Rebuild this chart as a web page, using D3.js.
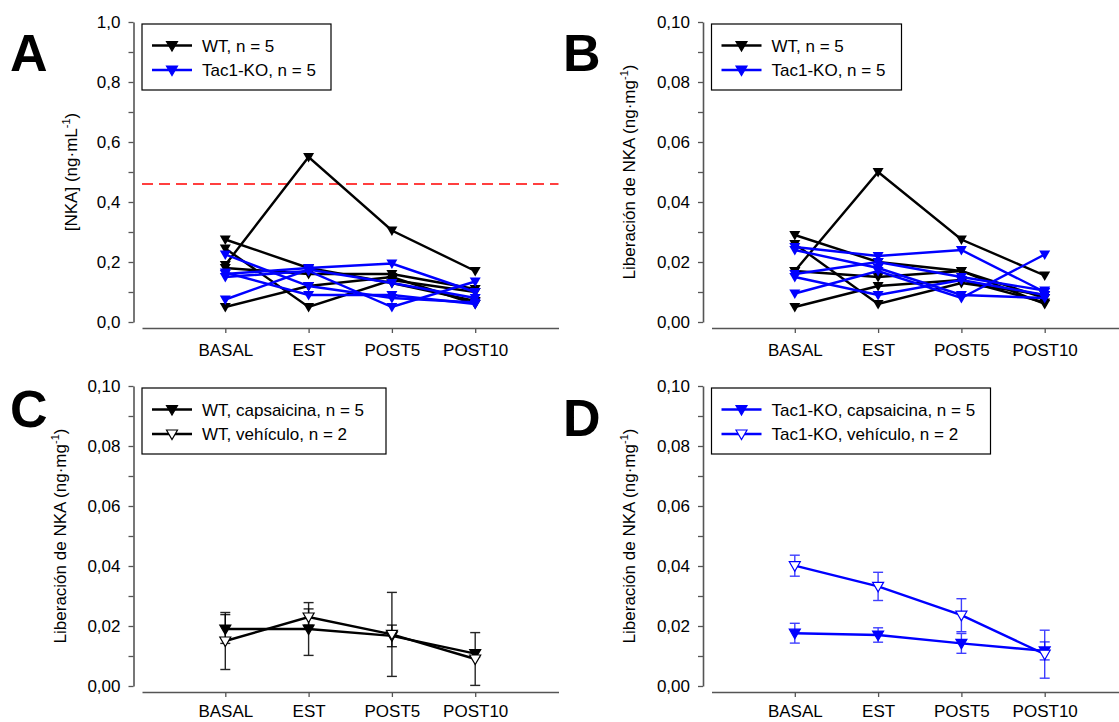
<!DOCTYPE html>
<html>
<head>
<meta charset="utf-8">
<script src="https://cdn.jsdelivr.net/npm/d3@7"></script>
<style>
  body { margin: 0; background: #fff; }
  svg { font-family: "Liberation Sans", Arial, sans-serif; }
</style>
</head>
<body>
<svg id="chart" width="1119" height="722"></svg>
<script>
// categories on the x axis
let categories = ["BASAL", "EST", "POST5", "POST10"];

// panel A: [NKA] per animal
let wtA = [
  [0.19, 0.55, 0.305, 0.17],
  [0.275, 0.18, 0.13, 0.07],
  [0.245, 0.05, 0.14, 0.10],
  [0.18, 0.16, 0.16, 0.11],
  [0.05, 0.12, 0.15, 0.06]
];
let koA = [
  [0.225, 0.12, 0.08, 0.065],
  [0.16, 0.18, 0.195, 0.10],
  [0.15, 0.17, 0.05, 0.135],
  [0.075, 0.175, 0.13, 0.08],
  [0.165, 0.09, 0.09, 0.06]
];
let thresholdA = 0.46;

// panel B: liberacion de NKA per animal
let wtB = [
  [0.017, 0.050, 0.0275, 0.0155],
  [0.029, 0.020, 0.017, 0.006],
  [0.026, 0.006, 0.013, 0.009],
  [0.017, 0.015, 0.017, 0.008],
  [0.005, 0.012, 0.014, 0.0065]
];
let koB = [
  [0.025, 0.022, 0.024, 0.010],
  [0.024, 0.018, 0.009, 0.008],
  [0.016, 0.020, 0.015, 0.0105],
  [0.0095, 0.017, 0.008, 0.0225],
  [0.015, 0.009, 0.014, 0.009]
];

// panel C: WT means and errors
let wtCapsMean = [0.019, 0.019, 0.0167, 0.0108];
let wtCapsErr = [0.0048, 0.0088, 0.0036, 0.0012];
let wtVehMean = [0.015, 0.023, 0.0172, 0.009];
let wtVehErr = [0.0095, 0.0027, 0.014, 0.0088];

// panel D: Tac1-KO means and errors
let koCapsMean = [0.0176, 0.017, 0.0142, 0.0117];
let koCapsErr = [0.0033, 0.0024, 0.0033, 0.003];
let koVehMean = [0.0401, 0.0332, 0.0236, 0.0106];
let koVehErr = [0.0035, 0.0047, 0.0055, 0.008];

// legend labels
let legendA = ["WT, n = 5", "Tac1-KO, n = 5"];
let legendC = ["WT, capsaicina, n = 5", "WT, vehículo, n = 2"];
let legendD = ["Tac1-KO, capsaicina, n = 5", "Tac1-KO, vehículo, n = 2"];

let svg = d3.select("#chart");
let downTri = "M-5.5,-4L5.5,-4L0,5.5Z";

function fmtComma(d, digits) {
  return d.toFixed(digits).replace(".", ",");
}

function drawPanel(p) {
  let g = svg.append("g");

  let y = d3.scaleLinear().domain([0, p.yMax]).range([p.bottom, p.top]);
  let x = d3.scaleLinear().domain([-1, 4]).range([p.axisX + 8.5, p.axisX + 425]);

  // y axis: majors with labels, minors without
  let majors = d3.range(0, 6).map(function(i) { return i * p.yMax / 5; });
  let minors = d3.range(0, 5).map(function(i) { return (i + 0.5) * p.yMax / 5; });
  let yAxis = d3.axisLeft(y)
    .tickValues(majors.concat(minors))
    .tickSize(5)
    .tickSizeOuter(0)
    .tickPadding(8)
    .tickFormat(function(d) {
      let isMajor = majors.some(function(m) { return Math.abs(m - d) < 1e-9; });
      return isMajor ? fmtComma(d, p.digits) : "";
    });
  let ya = g.append("g")
    .attr("transform", "translate(" + p.axisX + ",0)")
    .call(yAxis);
  ya.select(".domain").attr("stroke", "#555").attr("stroke-width", 1.6);
  ya.selectAll(".tick line").attr("stroke", "#555").attr("stroke-width", 1.3);
  ya.selectAll("text").attr("font-size", 17).attr("fill", "#000");

  // x axis sits a little below zero
  let xAxis = d3.axisBottom(x)
    .tickValues([0, 1, 2, 3])
    .tickSize(5)
    .tickSizeOuter(0)
    .tickPadding(p.xPad)
    .tickFormat(function(d) { return categories[d]; });
  let xa = g.append("g")
    .attr("transform", "translate(0," + (p.bottom + 6) + ")")
    .call(xAxis);
  xa.select(".domain").attr("stroke", "#555").attr("stroke-width", 1.6);
  xa.selectAll(".tick line").attr("stroke", "#555").attr("stroke-width", 1.3);
  xa.selectAll("text").attr("font-size", 17).attr("fill", "#000");

  // y axis title with superscript
  let tx = p.titleX, ty = (p.top + p.bottom) / 2;
  let title = g.append("text")
    .attr("transform", "translate(" + tx + "," + ty + ") rotate(-90)")
    .attr("text-anchor", "middle")
    .attr("font-size", 17)
    .attr("fill", "#000");
  title.append("tspan").text(p.title);
  title.append("tspan").attr("dy", -7).attr("font-size", 11).text("-1");
  title.append("tspan").attr("dy", 7).text(")");

  // panel letter
  g.append("text")
    .attr("x", p.letterX).attr("y", p.letterY)
    .attr("font-size", 52).attr("font-weight", "bold")
    .text(p.letter);

  if (p.threshold != null) {
    g.append("line")
      .attr("x1", p.axisX + 8.5).attr("x2", p.axisX + 425)
      .attr("y1", y(p.threshold)).attr("y2", y(p.threshold))
      .attr("stroke", "#ff0000").attr("stroke-width", 1.4)
      .attr("stroke-dasharray", "11,6");
  }

  let line = d3.line()
    .x(function(d, i) { return x(i); })
    .y(function(d) { return y(d); });

  // individual animals
  (p.groups || []).forEach(function(grp) {
    grp.rows.forEach(function(row) {
      g.append("path").datum(row)
        .attr("fill", "none").attr("stroke", grp.color)
        .attr("stroke-width", 2.4).attr("d", line);
      g.selectAll(null).data(row).enter().append("path")
        .attr("d", downTri)
        .attr("transform", function(d, i) { return "translate(" + x(i) + "," + y(d) + ")"; })
        .attr("fill", grp.color);
    });
  });

  // means with error bars
  (p.series || []).forEach(function(s) {
    let eb = g.append("g").attr("stroke", s.color).attr("stroke-width", 1.4).attr("opacity", s.errOpacity);
    s.mean.forEach(function(m, i) {
      let cx = x(i);
      eb.append("line").attr("x1", cx).attr("x2", cx).attr("y1", y(m - s.err[i])).attr("y2", y(m + s.err[i]));
      eb.append("line").attr("x1", cx - 5).attr("x2", cx + 5).attr("y1", y(m - s.err[i])).attr("y2", y(m - s.err[i]));
      eb.append("line").attr("x1", cx - 5).attr("x2", cx + 5).attr("y1", y(m + s.err[i])).attr("y2", y(m + s.err[i]));
    });
  });
  (p.series || []).forEach(function(s) {
    g.append("path").datum(s.mean)
      .attr("fill", "none").attr("stroke", s.color)
      .attr("stroke-width", 2.4).attr("d", line);
    g.selectAll(null).data(s.mean).enter().append("path")
      .attr("d", downTri)
      .attr("transform", function(d, i) { return "translate(" + x(i) + "," + y(d) + ")"; })
      .attr("fill", s.open ? "#fff" : s.color)
      .attr("stroke", s.color).attr("stroke-width", 1.2);
  });

  // legend box
  let lg = g.append("g").attr("transform", "translate(" + (p.axisX + 8.5) + "," + (p.top + 2) + ")");
  lg.append("rect").attr("width", p.legendW).attr("height", 66)
    .attr("fill", "#fff").attr("stroke", "#000").attr("stroke-width", 1.2);
  p.legend.forEach(function(item, i) {
    let ly = 21.5 + i * 24.5;
    lg.append("line").attr("x1", 10).attr("x2", 50).attr("y1", ly).attr("y2", ly)
      .attr("stroke", item.color).attr("stroke-width", 2.4);
    lg.append("path").attr("d", downTri)
      .attr("transform", "translate(30," + ly + ")")
      .attr("fill", item.open ? "#fff" : item.color)
      .attr("stroke", item.color).attr("stroke-width", 1.2);
    lg.append("text").attr("x", 60).attr("y", ly + 6)
      .attr("font-size", 17).attr("fill", "#000").text(item.label);
  });
}

drawPanel({
  letter: "A", letterX: 10, letterY: 71,
  axisX: 133.5, top: 22, bottom: 322, yMax: 1.0, digits: 1, xPad: 11,
  title: "[NKA] (ng·mL", titleX: 77, threshold: thresholdA,
  groups: [{ rows: wtA, color: "#000" }, { rows: koA, color: "#0000ff" }],
  legendW: 189,
  legend: [{ label: legendA[0], color: "#000" }, { label: legendA[1], color: "#0000ff" }]
});

drawPanel({
  letter: "B", letterX: 563, letterY: 71,
  axisX: 703, top: 22, bottom: 322, yMax: 0.10, digits: 2, xPad: 11,
  title: "Liberación de NKA (ng·mg", titleX: 635,
  groups: [{ rows: wtB, color: "#000" }, { rows: koB, color: "#0000ff" }],
  legendW: 190,
  legend: [{ label: legendA[0], color: "#000" }, { label: legendA[1], color: "#0000ff" }]
});

drawPanel({
  letter: "C", letterX: 10, letterY: 427,
  axisX: 133.5, top: 386, bottom: 686, yMax: 0.10, digits: 2, xPad: 8,
  title: "Liberación de NKA (ng·mg", titleX: 66,
  series: [
    { mean: wtCapsMean, err: wtCapsErr, color: "#000", open: false, errOpacity: 0.85 },
    { mean: wtVehMean, err: wtVehErr, color: "#000", open: true, errOpacity: 0.85 }
  ],
  legendW: 244,
  legend: [{ label: legendC[0], color: "#000" }, { label: legendC[1], color: "#000", open: true }]
});

drawPanel({
  letter: "D", letterX: 563, letterY: 436,
  axisX: 703, top: 386, bottom: 686, yMax: 0.10, digits: 2, xPad: 8,
  title: "Liberación de NKA (ng·mg", titleX: 635,
  series: [
    { mean: koCapsMean, err: koCapsErr, color: "#0000ff", open: false, errOpacity: 0.75 },
    { mean: koVehMean, err: koVehErr, color: "#0000ff", open: true, errOpacity: 0.75 }
  ],
  legendW: 279,
  legend: [{ label: legendD[0], color: "#0000ff" }, { label: legendD[1], color: "#0000ff", open: true }]
});
</script>
</body>
</html>
